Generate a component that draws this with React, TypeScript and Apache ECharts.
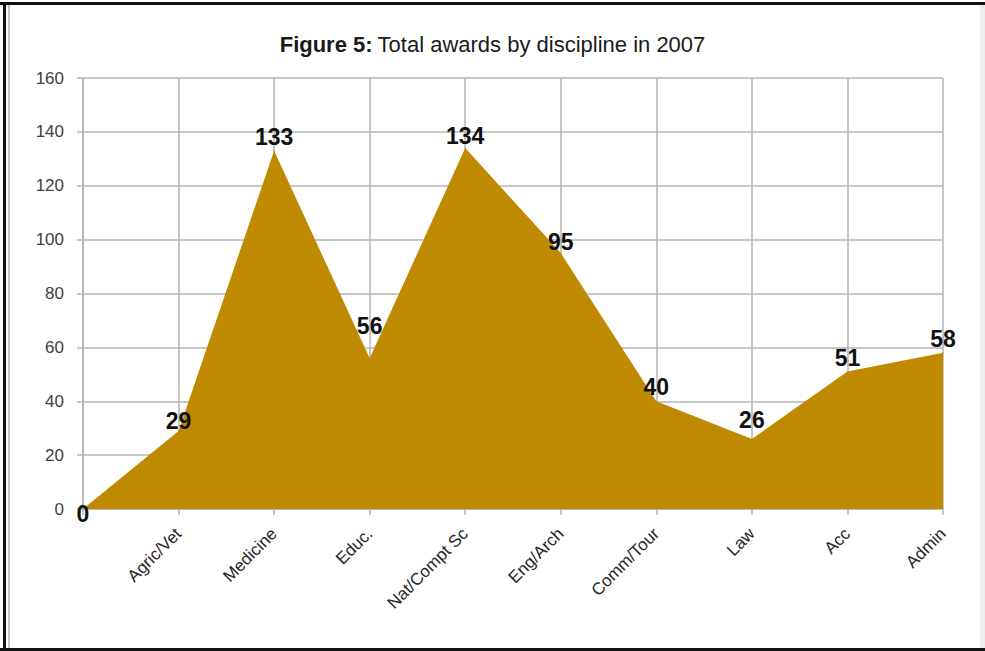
import React, { useEffect, useRef } from "react";
import * as echarts from "echarts";

const categories = ["", "Agric/Vet", "Medicine", "Educ.", "Nat/Compt Sc", "Eng/Arch", "Comm/Tour", "Law", "Acc", "Admin"];
const awards = [0, 29, 133, 56, 134, 95, 40, 26, 51, 58];
const yTicks = { min: 0, max: 160, interval: 20 };
// vertical nudges of individual data labels (px)
const labelNudges = [19, 4, 0, -18, 2, 3, 0, -5, 0, 0];

export default function App() {
  const ref = useRef<HTMLDivElement>(null);
  useEffect(() => {
    document.body.style.margin = "0";
    const chart = echarts.init(ref.current!, null, { renderer: "svg" });
    const grid = "#b4b4b4";
    chart.setOption({
      animation: false,
      backgroundColor: "#ffffff",
      title: {
        left: "center",
        top: 28,
        text: "{b|Figure 5:} {r|Total awards by discipline in 2007}",
        textStyle: {
          fontWeight: "normal",
          rich: {
            b: { fontFamily: "Liberation Sans", fontSize: 22, fontWeight: "bold", color: "#1a1a1a" },
            r: { fontFamily: "Liberation Sans", fontSize: 22, fontWeight: "normal", color: "#1a1a1a" },
          },
        },
      },
      grid: { left: 83, right: 42, top: 78, bottom: 142 },
      xAxis: {
        type: "category",
        data: categories,
        boundaryGap: false,
        axisLine: { lineStyle: { color: grid, width: 1.5 } },
        axisTick: { show: true, length: 6, interval: 0, lineStyle: { color: grid, width: 1.5 } },
        splitLine: { show: true, interval: 0, lineStyle: { color: grid, width: 1.5 } },
        axisLabel: {
          interval: 0,
          rotate: 45,
          margin: 22,
          fontFamily: "Liberation Sans",
          fontSize: 17,
          color: "#262626",
        },
      },
      yAxis: {
        type: "value",
        min: yTicks.min,
        max: yTicks.max,
        interval: yTicks.interval,
        axisLine: { show: true, lineStyle: { color: grid, width: 1.5 } },
        axisTick: { show: true, length: 6, lineStyle: { color: grid, width: 1.5 } },
        splitLine: { show: true, lineStyle: { color: grid, width: 1.5 } },
        axisLabel: { margin: 19, fontFamily: "Liberation Sans", fontSize: 17, color: "#404040" },
      },
      series: [
        {
          type: "line",
          data: awards.map((v, i) => ({
            value: v,
            label: { offset: [0, labelNudges[i]] },
          })),
          symbol: "circle",
          symbolSize: 1,
          itemStyle: { color: "#c08a00" },
          lineStyle: { width: 0, color: "#c08a00" },
          areaStyle: { color: "#c08a00", opacity: 1 },
          label: {
            show: true,
            position: "top",
            distance: 2,
            fontFamily: "Liberation Sans",
            fontSize: 23,
            fontWeight: "bold",
            color: "#111111",
          },
        },
      ],
      graphic: [
        { type: "rect", shape: { x: 0, y: 2, width: 985, height: 3 }, style: { fill: "#111111" } },
        { type: "rect", shape: { x: 3, y: 2, width: 3, height: 649 }, style: { fill: "#111111" } },
        { type: "rect", shape: { x: 8, y: 5, width: 2, height: 643 }, style: { fill: "#c4c4c4" } },
        { type: "rect", shape: { x: 0, y: 648, width: 985, height: 3 }, style: { fill: "#111111" } },
        { type: "rect", shape: { x: 980, y: 5, width: 5, height: 643 }, style: { fill: "#eeeeee" } },
      ],
    });
    return () => chart.dispose();
  }, []);
  return <div ref={ref} style={{ position: "fixed", left: 0, top: 0, width: 985, height: 651 }} />;
}
